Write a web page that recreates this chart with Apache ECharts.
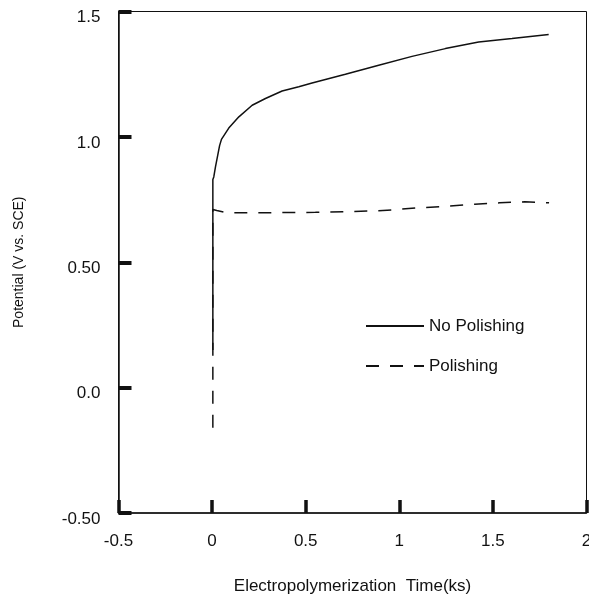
<!DOCTYPE html>
<html>
<head>
<meta charset="utf-8">
<script src="https://cdn.jsdelivr.net/npm/echarts@6/dist/echarts.min.js"></script>
<style>
  html, body { margin: 0; padding: 0; background: #fff; }
  #chart { width: 589px; height: 604px; }
</style>
</head>
<body>
<div id="chart"></div>
<script>
// Electropolymerization potential transients (time in ks, potential in V vs. SCE)
const noPolishing = [
  [0.004, 0.15], [0.004, 0.83], [0.009, 0.84], [0.018, 0.88], [0.04, 0.965],
  [0.05, 0.99], [0.089, 1.035], [0.143, 1.08], [0.214, 1.126], [0.285, 1.153],
  [0.374, 1.183], [0.463, 1.20], [0.534, 1.215], [0.712, 1.25], [0.89, 1.286],
  [1.068, 1.321], [1.246, 1.352], [1.424, 1.378], [1.602, 1.392], [1.798, 1.408]
];
const polishing = [
  [0.004, -0.16], [0.004, 0.71], [0.025, 0.706], [0.08, 0.697], [0.178, 0.697],
  [0.552, 0.699], [0.89, 0.705], [0.997, 0.711], [1.104, 0.717], [1.264, 0.724],
  [1.403, 0.731], [1.536, 0.737], [1.67, 0.741], [1.8, 0.737]
];

const xTicks = [-0.5, 0, 0.5, 1, 1.5, 2];
const xTickLabels = ['-0.5', '0', '0.5', '1', '1.5', '2'];
const yTicks = [-0.5, 0, 0.5, 1, 1.5];
const yTickLabels = ['-0.50', '0.0', '0.50', '1.0', '1.5'];

const seriesNames = ['No Polishing', 'Polishing'];
const xTitle = 'Electropolymerization  Time(ks)';
const yTitle = 'Potential (V vs. SCE)';

function labelFor(ticks, labels) {
  return function (v) {
    for (let i = 0; i < ticks.length; i++) {
      if (Math.abs(ticks[i] - v) < 1e-9) return labels[i];
    }
    return '';
  };
}

const FONT = 'Liberation Sans, Arial, Helvetica, sans-serif';
const INK = '#111';

const chart = echarts.init(document.getElementById('chart'), null, { renderer: 'canvas' });
chart.setOption({
  animation: false,
  backgroundColor: '#fff',
  grid: {
    left: 118.5, right: 2.5, top: 11.5, bottom: 91,
    outerBoundsMode: 'none', containLabel: false,
    show: true, borderColor: INK, borderWidth: 1, backgroundColor: 'transparent'
  },
  legend: {
    orient: 'vertical',
    left: 360, top: 311,
    itemWidth: 58, itemHeight: 20, itemGap: 20,
    itemStyle: { opacity: 0 },
    textStyle: { fontFamily: FONT, fontSize: 17, color: INK, lineHeight: 20 },
    data: seriesNames
  },
  xAxis: {
    type: 'value', min: -0.5, max: 2, interval: 0.5,
    name: xTitle, nameLocation: 'middle', nameGap: 65,
    nameTextStyle: { fontFamily: FONT, fontSize: 17, color: INK },
    axisLine: { show: true, onZero: false, lineStyle: { color: INK, width: 1.5 } },
    axisTick: { show: true, inside: true, length: 13, lineStyle: { color: INK, width: 3.5 } },
    axisLabel: {
      margin: 20, fontFamily: FONT, fontSize: 17, color: INK,
      formatter: labelFor(xTicks, xTickLabels)
    },
    splitLine: { show: false }
  },
  yAxis: {
    type: 'value', min: -0.5, max: 1.5, interval: 0.5,
    name: yTitle, nameLocation: 'middle', nameGap: 92, nameRotate: 90,
    nameTextStyle: { fontFamily: FONT, fontSize: 14, color: INK },
    axisLine: { show: true, onZero: false, lineStyle: { color: INK, width: 1.5 } },
    axisTick: { show: true, inside: true, length: 13, lineStyle: { color: INK, width: 4 } },
    axisLabel: {
      margin: 18, fontFamily: FONT, fontSize: 17, color: INK,
      verticalAlign: 'top', lineHeight: 12,
      formatter: labelFor(yTicks, yTickLabels)
    },
    splitLine: { show: false }
  },
  series: [
    {
      name: seriesNames[0], type: 'line', data: noPolishing,
      symbol: 'none', smooth: false,
      lineStyle: { color: INK, width: 1.5, type: 'solid' },
      itemStyle: { color: INK }
    },
    {
      name: seriesNames[1], type: 'line', data: polishing,
      symbol: 'none', smooth: false,
      lineStyle: { color: INK, width: 1.5, type: [13, 11] },
      itemStyle: { color: INK }
    }
  ]
});
</script>
</body>
</html>
